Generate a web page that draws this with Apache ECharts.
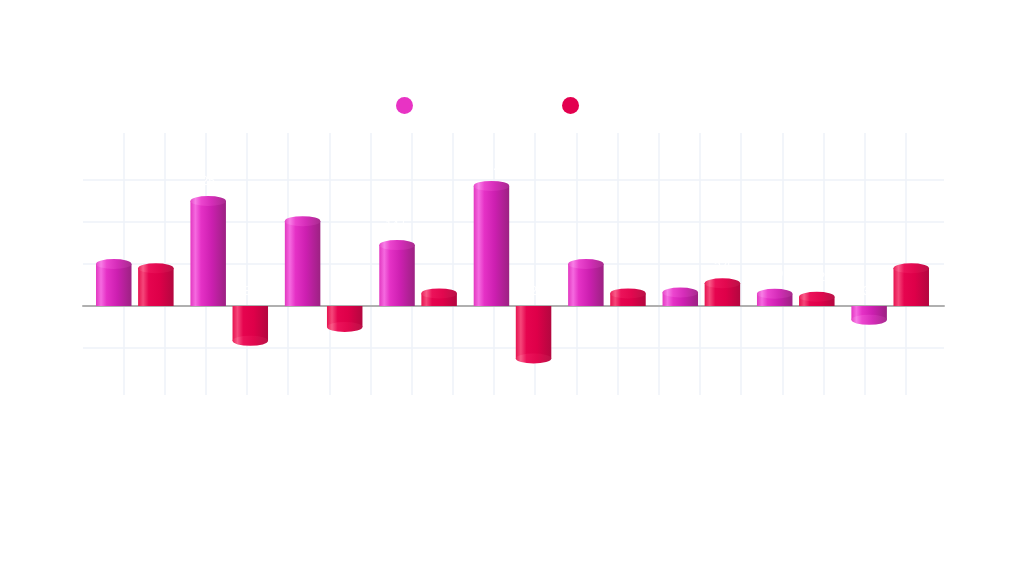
<!DOCTYPE html>
<html>
<head>
<meta charset="utf-8">
<script src="https://cdn.jsdelivr.net/npm/echarts@6/dist/echarts.min.js"></script>
<style>
html,body{margin:0;padding:0;background:#ffffff;}
#chart{width:1024px;height:576px;}
</style>
</head>
<body>
<div id="chart"></div>
<script>
const categories = ['A', 'B', 'C', 'D', 'E', 'F', 'G', 'H', 'I'];
const seriesNames = ['Series 1', 'Series 2'];
const valuesA = [10, 25, 20.2, 14.5, 28.6, 10, 3.2, 2.9, -3.3];
const valuesB = [9, -8.3, -5, 3, -12.5, 3, 5.4, 2.2, 9];
const yTicks = [-20, -10, 0, 10, 20, 30, 40];

const BAR_W = 35.5;
const BAR_GAP = '18.6%';
const CAP_H = 10;

function grad(stops) {
  return new echarts.graphic.LinearGradient(0, 0, 1, 0, stops.map(c => ({offset: c[0], color: c[1]})));
}
const magentaBody = grad([[0, '#e236c0'], [0.14, '#f56ae0'], [0.3, '#e531c6'], [0.6, '#cc1fb0'], [1, '#9c2282']]);
const magentaCap = grad([[0, '#e543c6'], [0.14, '#f77fe6'], [0.3, '#ec45cf'], [0.6, '#d52db9'], [1, '#a82c8e']]);
const redBody = grad([[0, '#e6124f'], [0.14, '#f5477a'], [0.3, '#e6044f'], [0.6, '#de0049'], [1, '#b3073f']]);
const redCap = grad([[0, '#ea1f59'], [0.14, '#f85c88'], [0.3, '#ec125a'], [0.6, '#e2084f'], [1, '#ba1247']]);

function capData(vals) {
  return vals.map(v => ({value: v, symbolOffset: [0, v >= 0 ? '-50%' : '50%']}));
}

const chart = echarts.init(document.getElementById('chart'), null, {renderer: 'canvas'});

const labelCfg = {
  show: true,
  position: 'top',
  distance: 8,
  color: '#ffffff',
  fontSize: 12,
  formatter: p => p.value
};

chart.setOption({
  backgroundColor: '#ffffff',
  animation: false,
  legend: {
    data: [
      {name: seriesNames[0], itemStyle: {color: '#e833c4'}},
      {name: seriesNames[1], itemStyle: {color: '#e3004f'}}
    ],
    left: 391,
    top: 92,
    icon: 'circle',
    itemWidth: 17,
    itemHeight: 17,
    itemGap: 100,
    textStyle: {color: '#ffffff', fontSize: 12}
  },
  grid: [
    {left: 83, right: 80, top: 138, bottom: 186},
    {left: 82.3, right: 77, top: 133, bottom: 181},
    {left: 87.6, right: 86.6, top: 138, bottom: 186}
  ],
  xAxis: [
    {gridIndex: 0, type: 'value', min: 0, max: 1, show: true,
     axisLine: {show: true, onZero: true, lineStyle: {color: '#b0b0b0', width: 2}},
     axisTick: {show: false}, axisLabel: {show: false}, splitLine: {show: false}},
    {gridIndex: 1, type: 'value', min: 0, max: 21, interval: 1,
     axisLine: {show: false}, axisTick: {show: false}, axisLabel: {show: false},
     splitLine: {show: true, showMinLine: false, showMaxLine: false, lineStyle: {color: '#eef2f8', width: 1.5}}},
    {gridIndex: 2, type: 'category', data: categories,
     axisLine: {show: false}, axisTick: {show: false},
     axisLabel: {show: true, color: '#ffffff', fontSize: 12, margin: 100},
     splitLine: {show: false}}
  ],
  yAxis: [
    {gridIndex: 0, type: 'value', min: yTicks[0], max: yTicks[yTicks.length - 1], interval: 10,
     axisLine: {show: false}, axisTick: {show: false},
     axisLabel: {show: true, color: '#ffffff', fontSize: 12},
     splitLine: {show: true, showMinLine: false, showMaxLine: false, lineStyle: {color: '#eef2f8', width: 1.5}}},
    {gridIndex: 1, type: 'value', min: 0, max: 1, show: false, splitLine: {show: false}},
    {gridIndex: 2, type: 'value', min: yTicks[0], max: yTicks[yTicks.length - 1], show: false, splitLine: {show: false}}
  ],
  series: [
    {
      name: seriesNames[0], type: 'bar', xAxisIndex: 2, yAxisIndex: 2,
      data: valuesA, barWidth: BAR_W, barGap: BAR_GAP, z: 2,
      itemStyle: {color: magentaBody}
    },
    {
      name: seriesNames[1], type: 'bar', xAxisIndex: 2, yAxisIndex: 2,
      data: valuesB, barWidth: BAR_W, barGap: BAR_GAP, z: 2,
      itemStyle: {color: redBody}
    },
    {
      name: seriesNames[0], type: 'pictorialBar', xAxisIndex: 2, yAxisIndex: 2,
      data: capData(valuesA), barWidth: BAR_W, barGap: BAR_GAP, z: 3,
      symbol: 'circle', symbolSize: [BAR_W, CAP_H], symbolPosition: 'end',
      itemStyle: {color: magentaCap},
      label: labelCfg
    },
    {
      name: seriesNames[1], type: 'pictorialBar', xAxisIndex: 2, yAxisIndex: 2,
      data: capData(valuesB), barWidth: BAR_W, barGap: BAR_GAP, z: 3,
      symbol: 'circle', symbolSize: [BAR_W, CAP_H], symbolPosition: 'end',
      itemStyle: {color: redCap},
      label: labelCfg
    }
  ]
});
</script>
</body>
</html>
